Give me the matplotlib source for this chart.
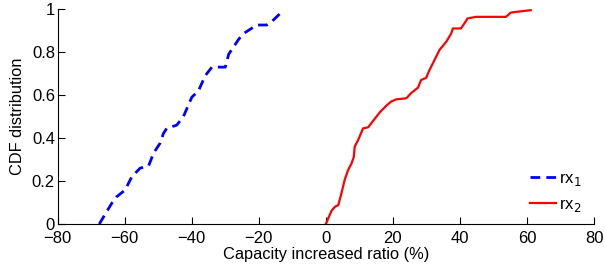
import matplotlib
matplotlib.use("Agg")
import matplotlib.pyplot as plt

plt.rcParams['font.family'] = ['Liberation Sans', 'DejaVu Sans']

# rx1 CDF (capacity increased ratio %, cumulative probability)
rx1_x = [-67.6, -63.9, -62.4, -59.9, -57.9, -55.4, -52.9, -51.4, -49.5, -48.5,
         -47.5, -44.5, -42.5, -40.0, -38.0, -36.0, -34.0, -30.0, -29.0, -26.0,
         -24.5, -20.6, -17.6, -15.6, -13.1]
rx1_y = [0.0, 0.096, 0.127, 0.158, 0.22, 0.26, 0.27, 0.33, 0.375, 0.42,
         0.445, 0.46, 0.50, 0.59, 0.62, 0.69, 0.73, 0.73, 0.79, 0.86,
         0.887, 0.926, 0.926, 0.95, 0.988]

# rx2 CDF
rx2_x = [0.0, 0.7, 1.7, 2.7, 3.7, 4.6, 5.6, 6.6, 7.6, 8.3, 8.6, 9.6, 11.1, 12.6,
         14.1, 16.1, 18.0, 19.5, 21.0, 24.0, 25.5, 27.5, 28.4, 29.9, 30.9, 32.4,
         33.9, 36.0, 37.4, 37.9, 40.3, 41.3, 42.3, 44.8, 53.7, 55.2, 57.2, 61.1]
rx2_y = [0.0, 0.026, 0.062, 0.08, 0.088, 0.14, 0.205, 0.25, 0.28, 0.31, 0.36,
         0.39, 0.445, 0.45, 0.48, 0.52, 0.55, 0.57, 0.58, 0.585, 0.61, 0.635,
         0.67, 0.68, 0.716, 0.763, 0.81, 0.85, 0.887, 0.91, 0.91, 0.933, 0.957,
         0.964, 0.964, 0.984, 0.988, 0.995]

xticks = [-80, -60, -40, -20, 0, 20, 40, 60, 80]
yticks = [0, 0.2, 0.4, 0.6, 0.8, 1.0]
yticklabels = ['0', '0.2', '0.4', '0.6', '0.8', '1']

fig = plt.figure(figsize=(6.05, 2.72), dpi=100)
ax = fig.add_axes([0.0954, 0.1765, 0.8865, 0.790])

ax.plot(rx1_x, rx1_y, color=(0, 0, 1), lw=2.0, ls=(0, (3.5, 2.2)), label='rx$_1$')
ax.plot(rx2_x, rx2_y, color=(1, 0, 0), lw=1.6, label='rx$_2$')

ax.set_xlim(-80, 80)
ax.set_ylim(0, 1)
ax.set_xticks(xticks)
ax.set_xticklabels([('\u2212' + str(-t)) if t < 0 else str(t) for t in xticks])
ax.set_yticks(yticks)
ax.set_yticklabels(yticklabels)
ax.spines['top'].set_visible(False)
ax.spines['right'].set_visible(False)
ax.tick_params(direction='in', length=5, width=0.8, labelsize=12)
ax.tick_params(axis='x', pad=5)
ax.tick_params(axis='y', pad=2)
ax.set_xlabel('Capacity increased ratio (%)', fontsize=11.8, labelpad=1)
ax.set_ylabel('CDF distribution', fontsize=11.8, labelpad=5)

leg = ax.legend(loc='lower right', frameon=False, fontsize=12, handlelength=1.6,
                handletextpad=0.15, labelspacing=0.55, bbox_to_anchor=(0.995, 0.0),
                borderaxespad=0.2)

fig.savefig('out.png', dpi=100)
